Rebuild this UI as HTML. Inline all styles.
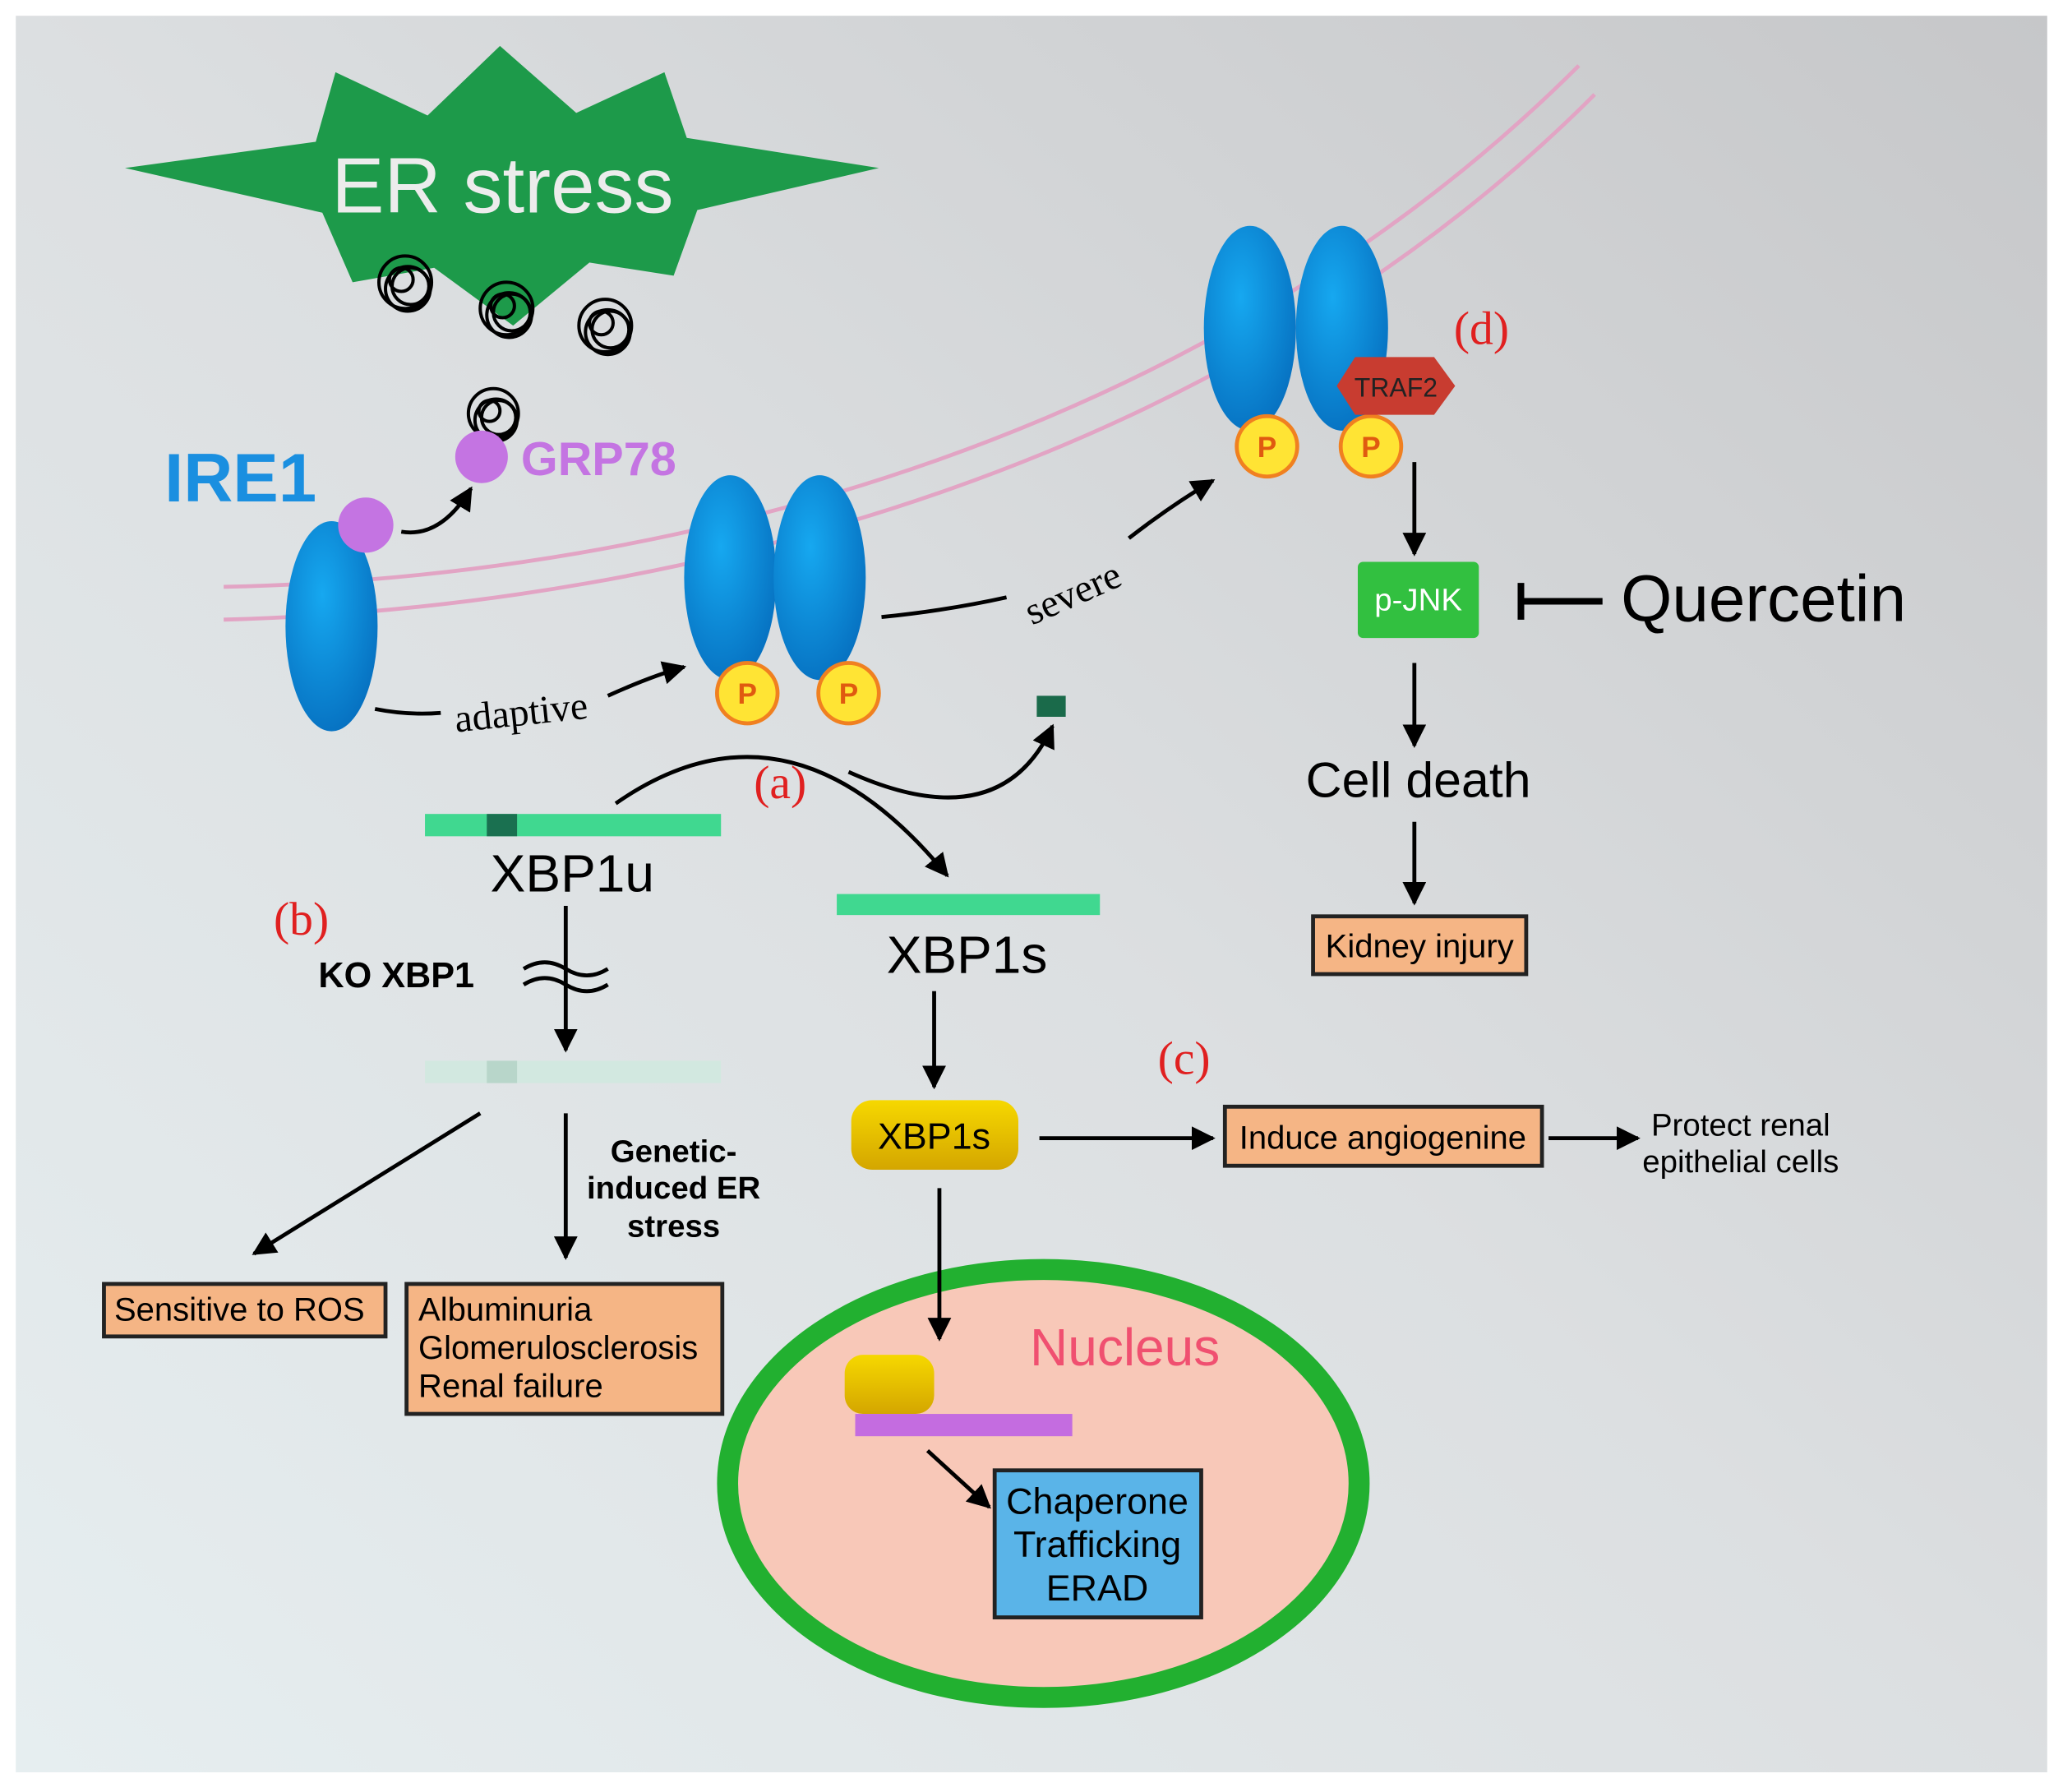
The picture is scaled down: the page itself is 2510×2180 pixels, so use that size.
<!DOCTYPE html>
<html><head><meta charset="utf-8"><style>html,body{margin:0;padding:0;background:#fff}svg{display:block}</style></head>
<body>
<svg width="2510" height="2180" viewBox="0 0 1568 1365" preserveAspectRatio="none" xmlns="http://www.w3.org/2000/svg" font-family="Liberation Sans, sans-serif">
<defs>
<linearGradient id="bg" x1="0" y1="1" x2="1" y2="0">
<stop offset="0" stop-color="#e6eef0"/><stop offset="0.5" stop-color="#dcdfe1"/><stop offset="1" stop-color="#c6c7c9"/></linearGradient>
<radialGradient id="blue" cx="0.4" cy="0.35" r="0.7"><stop offset="0" stop-color="#16a8f0"/><stop offset="1" stop-color="#0670c0"/></radialGradient>
<linearGradient id="yel" x1="0" y1="0" x2="0" y2="1"><stop offset="0" stop-color="#f6d800"/><stop offset="1" stop-color="#d4a600"/></linearGradient>
<marker id="ah" viewBox="0 0 10 10" refX="9" refY="5" markerWidth="6" markerHeight="6" orient="auto"><path d="M0,0 L10,5 L0,10 z" fill="#000"/></marker>
</defs>
<rect x="0" y="0" width="1568" height="1365" fill="#fff"/>
<rect x="12" y="12" width="1544" height="1338" fill="url(#bg)"/>

<!-- star -->
<polygon points="95,128 240,108 255,55 325,88 380,35 438,86 505,55 522,105 668,128 530,160 512,210 448,200 390,248 330,204 268,215 245,162" fill="#1d9a4a"/>
<text x="382" y="162" font-size="60" fill="#ececec" text-anchor="middle">ER stress</text>
<g fill="none" stroke="#000" stroke-width="2.5">
<g transform="translate(308,215)"><circle r="20"/><circle cx="4" cy="3" r="14"/><circle cx="-3" cy="-2" r="9"/><circle cx="2" cy="5" r="17"/></g>
<g transform="translate(385,235)"><circle r="20"/><circle cx="4" cy="3" r="14"/><circle cx="-3" cy="-2" r="9"/><circle cx="2" cy="5" r="17"/></g>
<g transform="translate(460,248)"><circle r="20"/><circle cx="4" cy="3" r="14"/><circle cx="-3" cy="-2" r="9"/><circle cx="2" cy="5" r="17"/></g>
<g transform="translate(375,315)"><circle r="19"/><circle cx="4" cy="3" r="13"/><circle cx="-3" cy="-2" r="8"/><circle cx="2" cy="5" r="16"/></g>
</g>

<!-- membrane -->
<path d="M170,447 C520,440 920,330 1200,50" fill="none" stroke="#e2a4c4" stroke-width="3"/>
<path d="M170,472 C530,462 935,350 1212,72" fill="none" stroke="#e2a4c4" stroke-width="3"/>

<!-- IRE1 monomer -->
<text x="125" y="382" font-size="52" font-weight="bold" fill="#1a8fe0">IRE1</text>
<ellipse cx="252" cy="477" rx="35" ry="80" fill="url(#blue)"/>
<circle cx="278" cy="400" r="21" fill="#c474e2"/>
<circle cx="366" cy="348" r="20" fill="#c474e2"/>
<text x="396" y="362" font-size="36" font-weight="bold" fill="#c474e2">GRP78</text>
<path d="M305,405 Q335,410 358,372" fill="none" stroke="#000" stroke-width="3" marker-end="url(#ah)"/>

<!-- dimer 1 -->
<ellipse cx="555" cy="440" rx="35" ry="78" fill="url(#blue)"/>
<ellipse cx="623" cy="440" rx="35" ry="78" fill="url(#blue)"/>
<g font-size="22" font-weight="bold" fill="#e05a10" text-anchor="middle">
<circle cx="568" cy="528" r="23" fill="#ffe434" stroke="#f08020" stroke-width="3"/><text x="568" y="536">P</text>
<circle cx="645" cy="528" r="23" fill="#ffe434" stroke="#f08020" stroke-width="3"/><text x="645" y="536">P</text>
</g>
<!-- dimer 2 -->
<ellipse cx="950" cy="250" rx="35" ry="78" fill="url(#blue)"/>
<ellipse cx="1020" cy="250" rx="35" ry="78" fill="url(#blue)"/>
<g font-size="22" font-weight="bold" fill="#e05a10" text-anchor="middle">
<circle cx="963" cy="340" r="23" fill="#ffe434" stroke="#f08020" stroke-width="3"/><text x="963" y="348">P</text>
<circle cx="1042" cy="340" r="23" fill="#ffe434" stroke="#f08020" stroke-width="3"/><text x="1042" y="348">P</text>
</g>
<polygon points="1030,272 1090,272 1106,294 1090,316 1030,316 1016,294" fill="#c83c30"/>
<text x="1061" y="302" font-size="20" fill="#222" text-anchor="middle">TRAF2</text>

<!-- adaptive / severe -->
<path d="M285,540 Q310,545 335,543" fill="none" stroke="#000" stroke-width="3"/>
<path d="M462,530 Q495,515 520,508" fill="none" stroke="#000" stroke-width="3" marker-end="url(#ah)"/>
<text x="345" y="552" font-size="30" font-family="Liberation Serif, serif" transform="rotate(-6 400 540)">adaptive</text>
<path d="M670,470 Q720,465 765,455" fill="none" stroke="#000" stroke-width="3"/>
<path d="M858,410 Q890,385 922,366" fill="none" stroke="#000" stroke-width="3" marker-end="url(#ah)"/>
<text x="772" y="462" font-size="30" font-family="Liberation Serif, serif" transform="rotate(-24 812 440)">severe</text>

<g font-family="Liberation Serif, serif" font-size="36" fill="#e02020">
<text x="1105" y="262">(d)</text><text x="573" y="608">(a)</text><text x="208" y="712">(b)</text><text x="880" y="818">(c)</text>
</g>

<!-- XBP1u -->
<rect x="323" y="620" width="225" height="17" fill="#40d890"/>
<rect x="370" y="620" width="23" height="17" fill="#1a7050"/>
<text x="435" y="679" font-size="40" text-anchor="middle">XBP1u</text>
<path d="M468,612 Q600,520 720,667" fill="none" stroke="#000" stroke-width="3" marker-end="url(#ah)"/>
<path d="M645,588 Q760,640 800,553" fill="none" stroke="#000" stroke-width="3" marker-end="url(#ah)"/>
<rect x="788" y="530" width="22" height="16" fill="#1a6a4a"/>

<rect x="636" y="681" width="200" height="16" fill="#40d890"/>
<text x="735" y="741" font-size="40" text-anchor="middle">XBP1s</text>
<line x1="710" y1="755" x2="710" y2="828" stroke="#000" stroke-width="3" marker-end="url(#ah)"/>
<rect x="647" y="838" width="127" height="53" rx="16" fill="url(#yel)"/>
<text x="710" y="875" font-size="28" text-anchor="middle">XBP1s</text>
<line x1="790" y1="867" x2="922" y2="867" stroke="#000" stroke-width="3" marker-end="url(#ah)"/>
<rect x="931" y="843" width="241" height="45" fill="#f5b585" stroke="#222" stroke-width="3"/>
<text x="1051" y="875" font-size="25" text-anchor="middle">Induce angiogenine</text>
<line x1="1177" y1="867" x2="1245" y2="867" stroke="#000" stroke-width="3" marker-end="url(#ah)"/>
<text x="1323" y="865" font-size="24" text-anchor="middle">Protect renal</text>
<text x="1323" y="893" font-size="24" text-anchor="middle">epithelial cells</text>

<!-- nucleus -->
<ellipse cx="793" cy="1130" rx="240" ry="163" fill="#f8c8b8" stroke="#22b030" stroke-width="16"/>
<line x1="714" y1="905" x2="714" y2="1020" stroke="#000" stroke-width="3" marker-end="url(#ah)"/>
<text x="855" y="1040" font-size="40" fill="#f05070" text-anchor="middle">Nucleus</text>
<rect x="642" y="1032" width="68" height="45" rx="14" fill="url(#yel)"/>
<rect x="650" y="1077" width="165" height="17" fill="#c46ce0"/>
<line x1="705" y1="1105" x2="752" y2="1148" stroke="#000" stroke-width="3" marker-end="url(#ah)"/>
<rect x="756" y="1120" width="157" height="112" fill="#5ab4e8" stroke="#222" stroke-width="3"/>
<g font-size="28" text-anchor="middle"><text x="834" y="1153">Chaperone</text><text x="834" y="1186">Trafficking</text><text x="834" y="1219">ERAD</text></g>

<!-- KO -->
<line x1="430" y1="690" x2="430" y2="800" stroke="#000" stroke-width="3" marker-end="url(#ah)"/>
<path d="M398,738 Q414,728 430,738 T462,738 M398,750 Q414,740 430,750 T462,750" fill="none" stroke="#000" stroke-width="3"/>
<text x="242" y="752" font-size="27" font-weight="bold">KO XBP1</text>
<rect x="323" y="808" width="225" height="17" fill="#d2e8e0"/>
<rect x="370" y="808" width="23" height="17" fill="#b8d6ca"/>
<line x1="365" y1="848" x2="193" y2="955" stroke="#000" stroke-width="3" marker-end="url(#ah)"/>
<line x1="430" y1="848" x2="430" y2="958" stroke="#000" stroke-width="3" marker-end="url(#ah)"/>
<g font-size="24" font-weight="bold" text-anchor="middle"><text x="512" y="885">Genetic-</text><text x="512" y="913">induced ER</text><text x="512" y="942">stress</text></g>
<rect x="79" y="978" width="214" height="40" fill="#f5b585" stroke="#222" stroke-width="3"/>
<text x="182" y="1006" font-size="25" text-anchor="middle">Sensitive to ROS</text>
<rect x="309" y="978" width="240" height="99" fill="#f5b585" stroke="#222" stroke-width="3"/>
<g font-size="25"><text x="318" y="1006">Albuminuria</text><text x="318" y="1035">Glomerulosclerosis</text><text x="318" y="1064">Renal failure</text></g>

<!-- right pathway -->
<line x1="1075" y1="352" x2="1075" y2="422" stroke="#000" stroke-width="3" marker-end="url(#ah)"/>
<rect x="1032" y="428" width="92" height="58" rx="4" fill="#32c040"/>
<text x="1078" y="465" font-size="24" fill="#fff" text-anchor="middle">p-JNK</text>
<line x1="1218" y1="458" x2="1156" y2="458" stroke="#000" stroke-width="5"/>
<line x1="1156" y1="444" x2="1156" y2="472" stroke="#000" stroke-width="5"/>
<text x="1232" y="473" font-size="50">Quercetin</text>
<line x1="1075" y1="505" x2="1075" y2="568" stroke="#000" stroke-width="3" marker-end="url(#ah)"/>
<text x="1078" y="607" font-size="38" text-anchor="middle">Cell death</text>
<line x1="1075" y1="626" x2="1075" y2="688" stroke="#000" stroke-width="3" marker-end="url(#ah)"/>
<rect x="998" y="698" width="162" height="44" fill="#f5b585" stroke="#222" stroke-width="3"/>
<text x="1079" y="729" font-size="25" text-anchor="middle">Kidney injury</text>
</svg>
</body></html>
